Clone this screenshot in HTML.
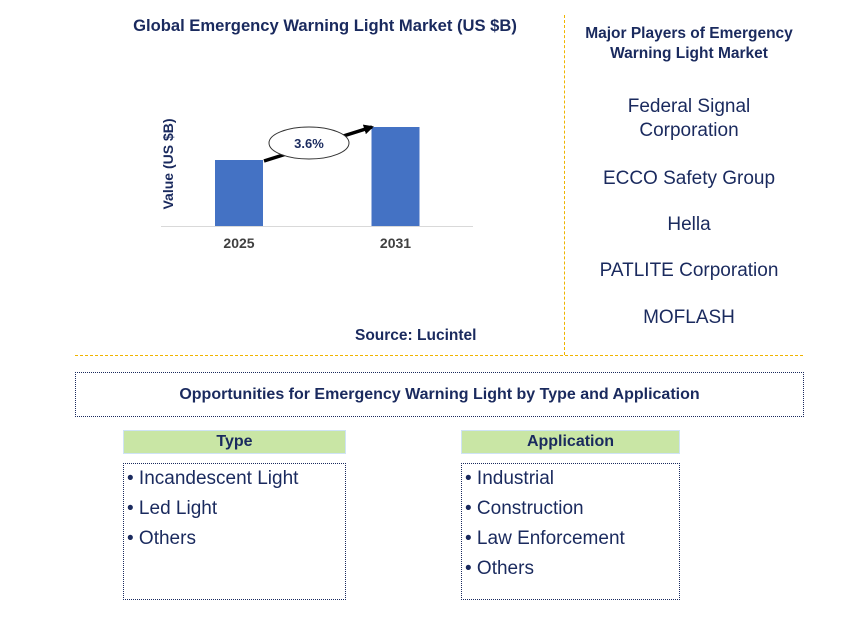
<!DOCTYPE html>
<html><head><meta charset="utf-8"><style>
body{margin:0;width:868px;height:619px;background:#fff;font-family:"Liberation Sans",Arial,sans-serif;position:relative;overflow:hidden}
.a{position:absolute}
.t{color:#1a2a5e;font-weight:bold}
.pl{position:absolute;left:566px;width:246px;text-align:center;font-size:19px;color:#1a2a5e}
.li{font-size:19px;color:#1a2a5e;line-height:30px;padding-left:3px}
</style></head><body>
<div class="a t" style="left:100px;top:16px;width:450px;text-align:center;font-size:16.6px">Global Emergency Warning Light Market (US $B)</div>
<svg class="a" style="left:0;top:0" width="560" height="300">
<g id="g"></g>
<text x="173" y="164" transform="rotate(-90 173 164)" text-anchor="middle" font-size="14" font-weight="bold" fill="#1a2a5e" font-family="Liberation Sans,sans-serif">Value (US $B)</text>
<line x1="161" y1="226.5" x2="473" y2="226.5" stroke="#d9d9d9"/>
<defs><marker id="ar" markerWidth="10" markerHeight="10" refX="8" refY="5" orient="auto" markerUnits="userSpaceOnUse"><path d="M0,0 L10,5 L0,10z" fill="#000"/></marker></defs>
<line x1="264" y1="161" x2="372" y2="127" stroke="#000" stroke-width="3.5" marker-end="url(#ar)"/>
<ellipse cx="309" cy="143" rx="40" ry="16" fill="#fff" stroke="#333"/>
<text x="309" y="148" text-anchor="middle" font-size="13" font-weight="bold" fill="#1a2a5e">3.6%</text>
</svg>
<script>
const categories=["2025","2031"];
const values=[1.0,1.5];
const base=226, scale=66, xs=[239,395.5], bw=48;
const g=document.getElementById('g');
const ns="http://www.w3.org/2000/svg";
categories.forEach((c,i)=>{
 const r=document.createElementNS(ns,'rect');
 const h=values[i]*scale;
 r.setAttribute('x',xs[i]-bw/2);r.setAttribute('y',base-h);r.setAttribute('width',bw);r.setAttribute('height',h);r.setAttribute('fill','#4472c4');
 
 
 g.appendChild(r);
 const t=document.createElementNS(ns,'text');
 t.setAttribute('x',xs[i]);t.setAttribute('y',248);t.setAttribute('text-anchor','middle');t.setAttribute('font-size','14');t.setAttribute('font-weight','bold');t.setAttribute('fill','#404040');
 t.textContent=c;
 
 
 g.appendChild(t);
});
</script>
<div class="a t" style="left:355px;top:327px;font-size:15.5px">Source: Lucintel</div>
<div class="a" style="left:564px;top:15px;height:340px;border-left:1px dashed #f0b400"></div>
<div class="a" style="left:75px;top:355px;width:728px;border-top:1px dashed #f0b400"></div>
<div class="a t" style="left:566px;top:24px;width:246px;text-align:center;font-size:15.5px;line-height:20px">Major Players of Emergency Warning Light Market</div>
<div class="pl" style="top:95px;line-height:24px">Federal Signal<br>Corporation</div>
<div class="pl" style="top:168px">ECCO Safety Group</div>
<div class="pl" style="top:214px">Hella</div>
<div class="pl" style="top:260px">PATLITE Corporation</div>
<div class="pl" style="top:307px">MOFLASH</div>
<div class="a t" style="left:75px;top:372px;width:727px;height:43px;border:1px dotted #1a2a5e;text-align:center;line-height:43px;font-size:16px">Opportunities for Emergency Warning Light by Type and Application</div>
<div class="a t" style="left:123px;top:430px;width:221px;height:22px;background:#c9e6a5;border:1px solid #cfe3f5;text-align:center;line-height:22px;font-size:16px">Type</div>
<div class="a" style="left:123px;top:463px;width:221px;height:135px;border:1px dotted #1a2a5e">
<div class="li">• Incandescent Light</div><div class="li">• Led Light</div><div class="li">• Others</div></div>
<div class="a t" style="left:461px;top:430px;width:217px;height:22px;background:#c9e6a5;border:1px solid #cfe3f5;text-align:center;line-height:22px;font-size:16px">Application</div>
<div class="a" style="left:461px;top:463px;width:217px;height:135px;border:1px dotted #1a2a5e">
<div class="li">• Industrial</div><div class="li">• Construction</div><div class="li">• Law Enforcement</div><div class="li">• Others</div></div>
</body></html>
